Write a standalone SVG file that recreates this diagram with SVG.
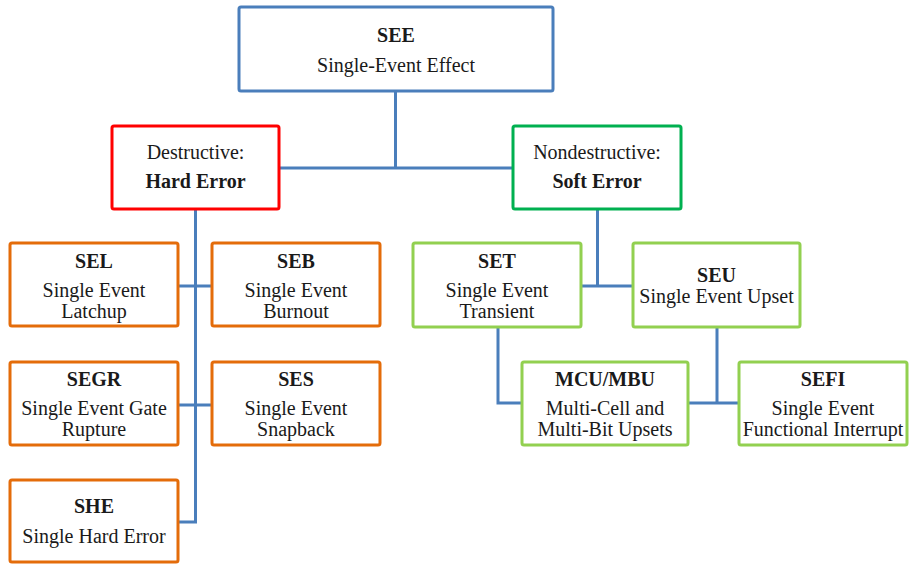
<svg xmlns="http://www.w3.org/2000/svg" width="909" height="564" viewBox="0 0 909 564">
<style>
.box{fill:#fff;stroke-width:3;}
.blue{stroke:#4a7ebb;}
.red{stroke:#ff0000;}
.dg{stroke:#00b050;}
.lg{stroke:#92d050;}
.or{stroke:#e46c0a;}
text{font-family:"Liberation Serif","Times New Roman",serif;font-size:20px;fill:#1a1a1a;text-anchor:middle;}
.b{font-weight:bold;}
.conn{fill:none;stroke:#4a7ebb;stroke-width:3;}
</style>
<rect width="909" height="564" fill="#fff"/>
<g id="connectors" class="conn">
<path d="M395.5 91 V168 M279 168 H513"/>
<path d="M195.5 209 V522 H178"/>
<path d="M178 286 H212 M178 405 H212"/>
<path d="M597.5 209 V286 M581 286 H633"/>
<path d="M498 327 V403 H522"/>
<path d="M717 327 V403 M688 403 H739"/>
</g>
<g id="SEE"><rect class="box blue" x="239" y="7" width="314" height="84" rx="2"/><text class="b" x="396" y="42">SEE</text><text x="396" y="72">Single-Event Effect</text></g>
<g id="destructive"><rect class="box red" x="112" y="126" width="167" height="83" rx="2"/><text x="195.5" y="159">Destructive:</text><text class="b" x="195.5" y="188">Hard Error</text></g>
<g id="nondestructive"><rect class="box dg" x="513" y="126" width="168" height="83" rx="2"/><text x="597" y="159">Nondestructive:</text><text class="b" x="597" y="188">Soft Error</text></g>
<g id="SEL"><rect class="box or" x="10" y="243" width="168" height="83" rx="2"/><text class="b" x="94" y="268">SEL</text><text x="94" y="297">Single Event</text><text x="94" y="318">Latchup</text></g>
<g id="SEB"><rect class="box or" x="212" y="243" width="168" height="83" rx="2"/><text class="b" x="296" y="268">SEB</text><text x="296" y="297">Single Event</text><text x="296" y="318">Burnout</text></g>
<g id="SEGR"><rect class="box or" x="10" y="362" width="168" height="83" rx="2"/><text class="b" x="94" y="386">SEGR</text><text x="94" y="415">Single Event Gate</text><text x="94" y="436">Rupture</text></g>
<g id="SES"><rect class="box or" x="212" y="362" width="168" height="83" rx="2"/><text class="b" x="296" y="386">SES</text><text x="296" y="415">Single Event</text><text x="296" y="436">Snapback</text></g>
<g id="SHE"><rect class="box or" x="10" y="480" width="168" height="82" rx="2"/><text class="b" x="94" y="513">SHE</text><text x="94" y="543">Single Hard Error</text></g>
<g id="SET"><rect class="box lg" x="413" y="243" width="168" height="84" rx="2"/><text class="b" x="497" y="268">SET</text><text x="497" y="297">Single Event</text><text x="497" y="318">Transient</text></g>
<g id="SEU"><rect class="box lg" x="633" y="243" width="167" height="84" rx="2"/><text class="b" x="716.5" y="282">SEU</text><text x="716.5" y="303">Single Event Upset</text></g>
<g id="MCU"><rect class="box lg" x="522" y="362" width="166" height="83" rx="2"/><text class="b" x="605" y="386">MCU/MBU</text><text x="605" y="415">Multi-Cell and</text><text x="605" y="436">Multi-Bit Upsets</text></g>
<g id="SEFI"><rect class="box lg" x="739" y="362" width="168" height="83" rx="2"/><text class="b" x="823" y="386">SEFI</text><text x="823" y="415">Single Event</text><text x="823" y="436">Functional Interrupt</text></g>
</svg>
